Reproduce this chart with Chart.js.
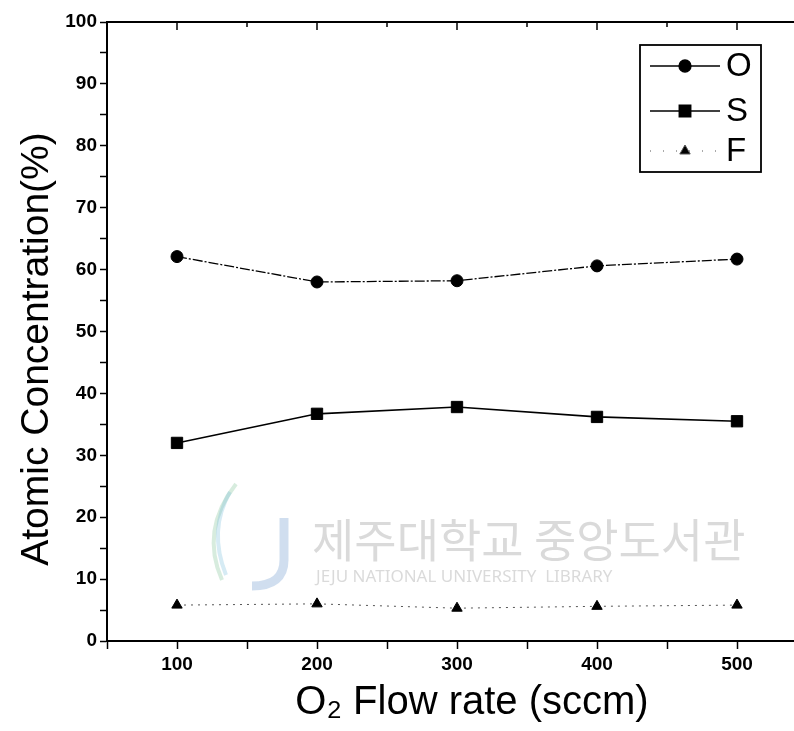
<!DOCTYPE html>
<html lang="en">
<head>
  <meta charset="UTF-8">
  <title>Atomic Concentration vs O2 Flow rate</title>
  <script src="https://cdn.jsdelivr.net/npm/chart.js"></script>
  <style>
    body { margin: 0; overflow: hidden; background: #fff; }
    #wrap { width: 820px; height: 731px; }
  </style>
</head>
<body>
  <div id="wrap"><canvas id="chart"></canvas></div>

  <script>
    const flowRates = [100, 200, 300, 400, 500];
    const oxygen = [62.1, 58.0, 58.2, 60.6, 61.7];
    const sulfur = [32.0, 36.7, 37.8, 36.2, 35.5];
    const fluorine = [5.8, 6.0, 5.3, 5.6, 5.8];
    const seriesNames = ['O', 'S', 'F'];
    const xTickLabels = [100, 200, 300, 400, 500];
    const yTickLabels = [0, 10, 20, 30, 40, 50, 60, 70, 80, 90, 100];
    const xTitle = 'O₂ Flow rate (sccm)';
    const yTitle = 'Atomic Concentration(%)';

    const tickFont = { family: '"Liberation Sans Narrow", "Liberation Sans", Arial', size: 19, weight: 'bold' };

    function toPoints(vals) {
      return flowRates.map((x, i) => ({ x: x, y: vals[i] }));
    }

    // frame (top/right axes), inward ticks, axis titles, legend box and library watermark
    const extras = {
      id: 'extras',
      beforeDatasetsDraw(chart) {
        const c = chart.ctx;
        c.save();
        c.fillStyle = 'rgba(150,150,150,0.35)';
        c.font = '46px "Noto Sans CJK KR", sans-serif';
        c.textBaseline = 'middle';
        c.fillText('제주대학교 중앙도서관', 312, 540);
        c.font = '17px "Noto Sans", sans-serif';
        c.fillText('JEJU NATIONAL UNIVERSITY  LIBRARY', 316, 577);
        // logo
        c.strokeStyle = 'rgba(120,160,210,0.35)';
        c.lineWidth = 9;
        c.beginPath();
        c.moveTo(284, 518);
        c.lineTo(284, 560);
        c.quadraticCurveTo(284, 586, 252, 586);
        c.stroke();
        c.strokeStyle = 'rgba(140,200,160,0.35)';
        c.lineWidth = 4;
        c.beginPath();
        c.moveTo(236, 484);
        c.quadraticCurveTo(200, 530, 222, 580);
        c.stroke();
        c.strokeStyle = 'rgba(120,190,220,0.3)';
        c.beginPath();
        c.moveTo(230, 492);
        c.quadraticCurveTo(208, 530, 226, 575);
        c.stroke();
        c.restore();
      },
      afterDraw(chart) {
        const c = chart.ctx;
        const a = chart.chartArea;
        const xs = chart.scales.x;
        const ys = chart.scales.y;
        c.save();
        c.strokeStyle = '#000';
        c.lineWidth = 2;
        c.beginPath();
        c.moveTo(a.left, a.top);
        c.lineTo(a.right, a.top);
        c.lineTo(a.right, a.bottom);
        c.stroke();
        c.lineWidth = 1.5;
        for (let v = 100; v <= 500; v += 50) {
          const px = xs.getPixelForValue(v);
          const len = v % 100 === 0 ? 8 : 5;
          c.beginPath();
          c.moveTo(px, a.top);
          c.lineTo(px, a.top + len);
          c.stroke();
        }
        for (let v = 5; v < 100; v += 5) {
          const py = ys.getPixelForValue(v);
          const len = v % 10 === 0 ? 8 : 4;
          c.beginPath();
          c.moveTo(a.right, py);
          c.lineTo(a.right - len, py);
          c.stroke();
        }

        // axis titles
        c.fillStyle = '#000';
        c.textAlign = 'center';
        c.textBaseline = 'alphabetic';
        c.font = '40px "Liberation Sans", Arial, sans-serif';
        c.fillText(xTitle, 472, 714);
        c.save();
        c.translate(48, 349);
        c.rotate(-Math.PI / 2);
        c.font = '39px "Liberation Sans", Arial, sans-serif';
        c.fillText(yTitle, 0, 0);
        c.restore();

        // legend
        const L = { x: 640, y: 45, w: 121, h: 127 };
        c.lineWidth = 1.8;
        c.strokeRect(L.x, L.y, L.w, L.h);
        const rows = [66, 111, 151];
        chart.data.datasets.forEach((ds, i) => {
          const y = rows[i];
          c.strokeStyle = ds.borderColor;
          c.lineWidth = ds.borderWidth;
          c.setLineDash(ds.legendDash || []);
          c.beginPath();
          c.moveTo(L.x + 10, y);
          c.lineTo(L.x + 80, y);
          c.stroke();
          c.setLineDash([]);
          Chart.helpers.drawPoint(c, {
            pointStyle: ds.pointStyle, radius: ds.pointRadius, rotation: 0,
            borderWidth: 1
          }, L.x + 45, y);
          c.fillStyle = '#000';
          c.font = '33px "Liberation Sans", Arial, sans-serif';
          c.textBaseline = 'middle';
          c.textAlign = 'left';
          c.fillText(ds.label, L.x + 86, y + 1);
        });
        c.restore();
      }
    };

    new Chart(document.getElementById('chart'), {
      type: 'line',
      data: {
        datasets: [
          {
            label: seriesNames[0], data: toPoints(oxygen),
            borderColor: '#000', backgroundColor: '#000', borderWidth: 1.3,
            borderDash: [10, 2, 2, 2], legendDash: [],
            pointStyle: 'circle', pointRadius: 6, pointBorderWidth: 1
          },
          {
            label: seriesNames[1], data: toPoints(sulfur),
            borderColor: '#000', backgroundColor: '#000', borderWidth: 1.6,
            legendDash: [],
            pointStyle: 'rect', pointRadius: 8, pointBorderWidth: 1
          },
          {
            label: seriesNames[2], data: toPoints(fluorine),
            borderColor: '#555', backgroundColor: '#000', borderWidth: 1,
            borderDash: [2, 5], legendDash: [1, 12],
            pointStyle: 'triangle', pointRadius: 6, pointBorderWidth: 1,
            pointBorderColor: '#000'
          }
        ]
      },
      options: {
        responsive: true,
        maintainAspectRatio: false,
        animation: false,
        layout: { padding: { top: 22, right: 13, left: 0, bottom: 0 } },
        plugins: { legend: { display: false }, tooltip: { enabled: false } },
        scales: {
          x: {
            type: 'linear', min: 50, max: 550,
            afterBuildTicks: s => {
              const t = [];
              for (let v = 50; v <= 550; v += 50) t.push({ value: v });
              s.ticks = t;
            },
            afterFit: s => { s.height = 90; },
            grid: { drawOnChartArea: false, tickLength: 8, color: '#000', tickWidth: 1.5 },
            border: { color: '#000', width: 2 },
            ticks: {
              color: '#000', font: tickFont, padding: 4, maxRotation: 0, autoSkip: false,
              callback: v => xTickLabels.includes(v) ? String(v) : ''
            }
          },
          y: {
            min: 0, max: 100,
            afterBuildTicks: s => {
              const t = [];
              for (let v = 0; v <= 100; v += 5) t.push({ value: v });
              s.ticks = t;
            },
            afterFit: s => { s.width = 107; },
            grid: { drawOnChartArea: false, tickLength: 7, color: '#000', tickWidth: 1.5 },
            border: { color: '#000', width: 2 },
            ticks: {
              color: '#000', font: tickFont, padding: 3, autoSkip: false,
              callback: v => yTickLabels.includes(v) ? String(v) : ''
            }
          }
        }
      },
      plugins: [extras]
    });
  </script>
</body>
</html>
